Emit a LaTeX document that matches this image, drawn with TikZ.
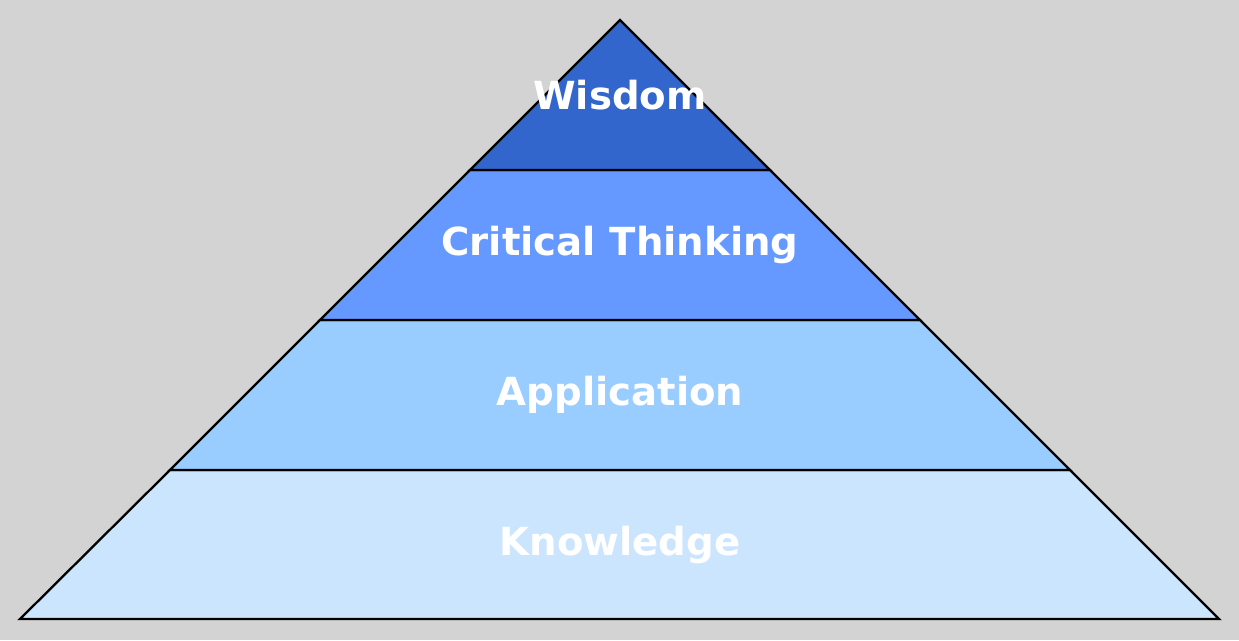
\documentclass[tikz,border=0pt]{standalone}
\usepackage{fontspec}
\setmainfont{DejaVu Sans}
\definecolor{bggray}{HTML}{D3D3D3}
\definecolor{wisdomc}{HTML}{3366CC}
\definecolor{criticalc}{HTML}{6699FF}
\definecolor{applic}{HTML}{99CCFF}
\definecolor{knowc}{HTML}{CCE5FF}
\begin{document}
\begin{tikzpicture}[x=0.02cm, y=-0.02cm,
    layer/.style={draw=black, line width=1.3pt, fill=#1, line join=miter},
    lbl/.style={text=white, font=\fontsize{22}{26}\selectfont\bfseries}
]
    % Background
    \fill[bggray] (0,0) rectangle (1239,640);

    % Pyramid levels
    \draw[layer=knowc] (20,619) -- (1219,619) -- (1070,470) -- (170,470) -- cycle;
    \draw[layer=applic] (170,470) -- (1070,470) -- (920,320) -- (320,320) -- cycle;
    \draw[layer=criticalc] (320,320) -- (920,320) -- (770,170) -- (470,170) -- cycle;
    \draw[layer=wisdomc] (470,170) -- (770,170) -- (620,20) -- cycle;

    % Labels
    \node[lbl] (wisdom) at (620,95) {Wisdom};
    \node[lbl] (critical) at (620,245) {Critical Thinking};
    \node[lbl] (application) at (620,395) {Application};
    \node[lbl] (knowledge) at (620,545) {Knowledge};
\end{tikzpicture}
\end{document}
